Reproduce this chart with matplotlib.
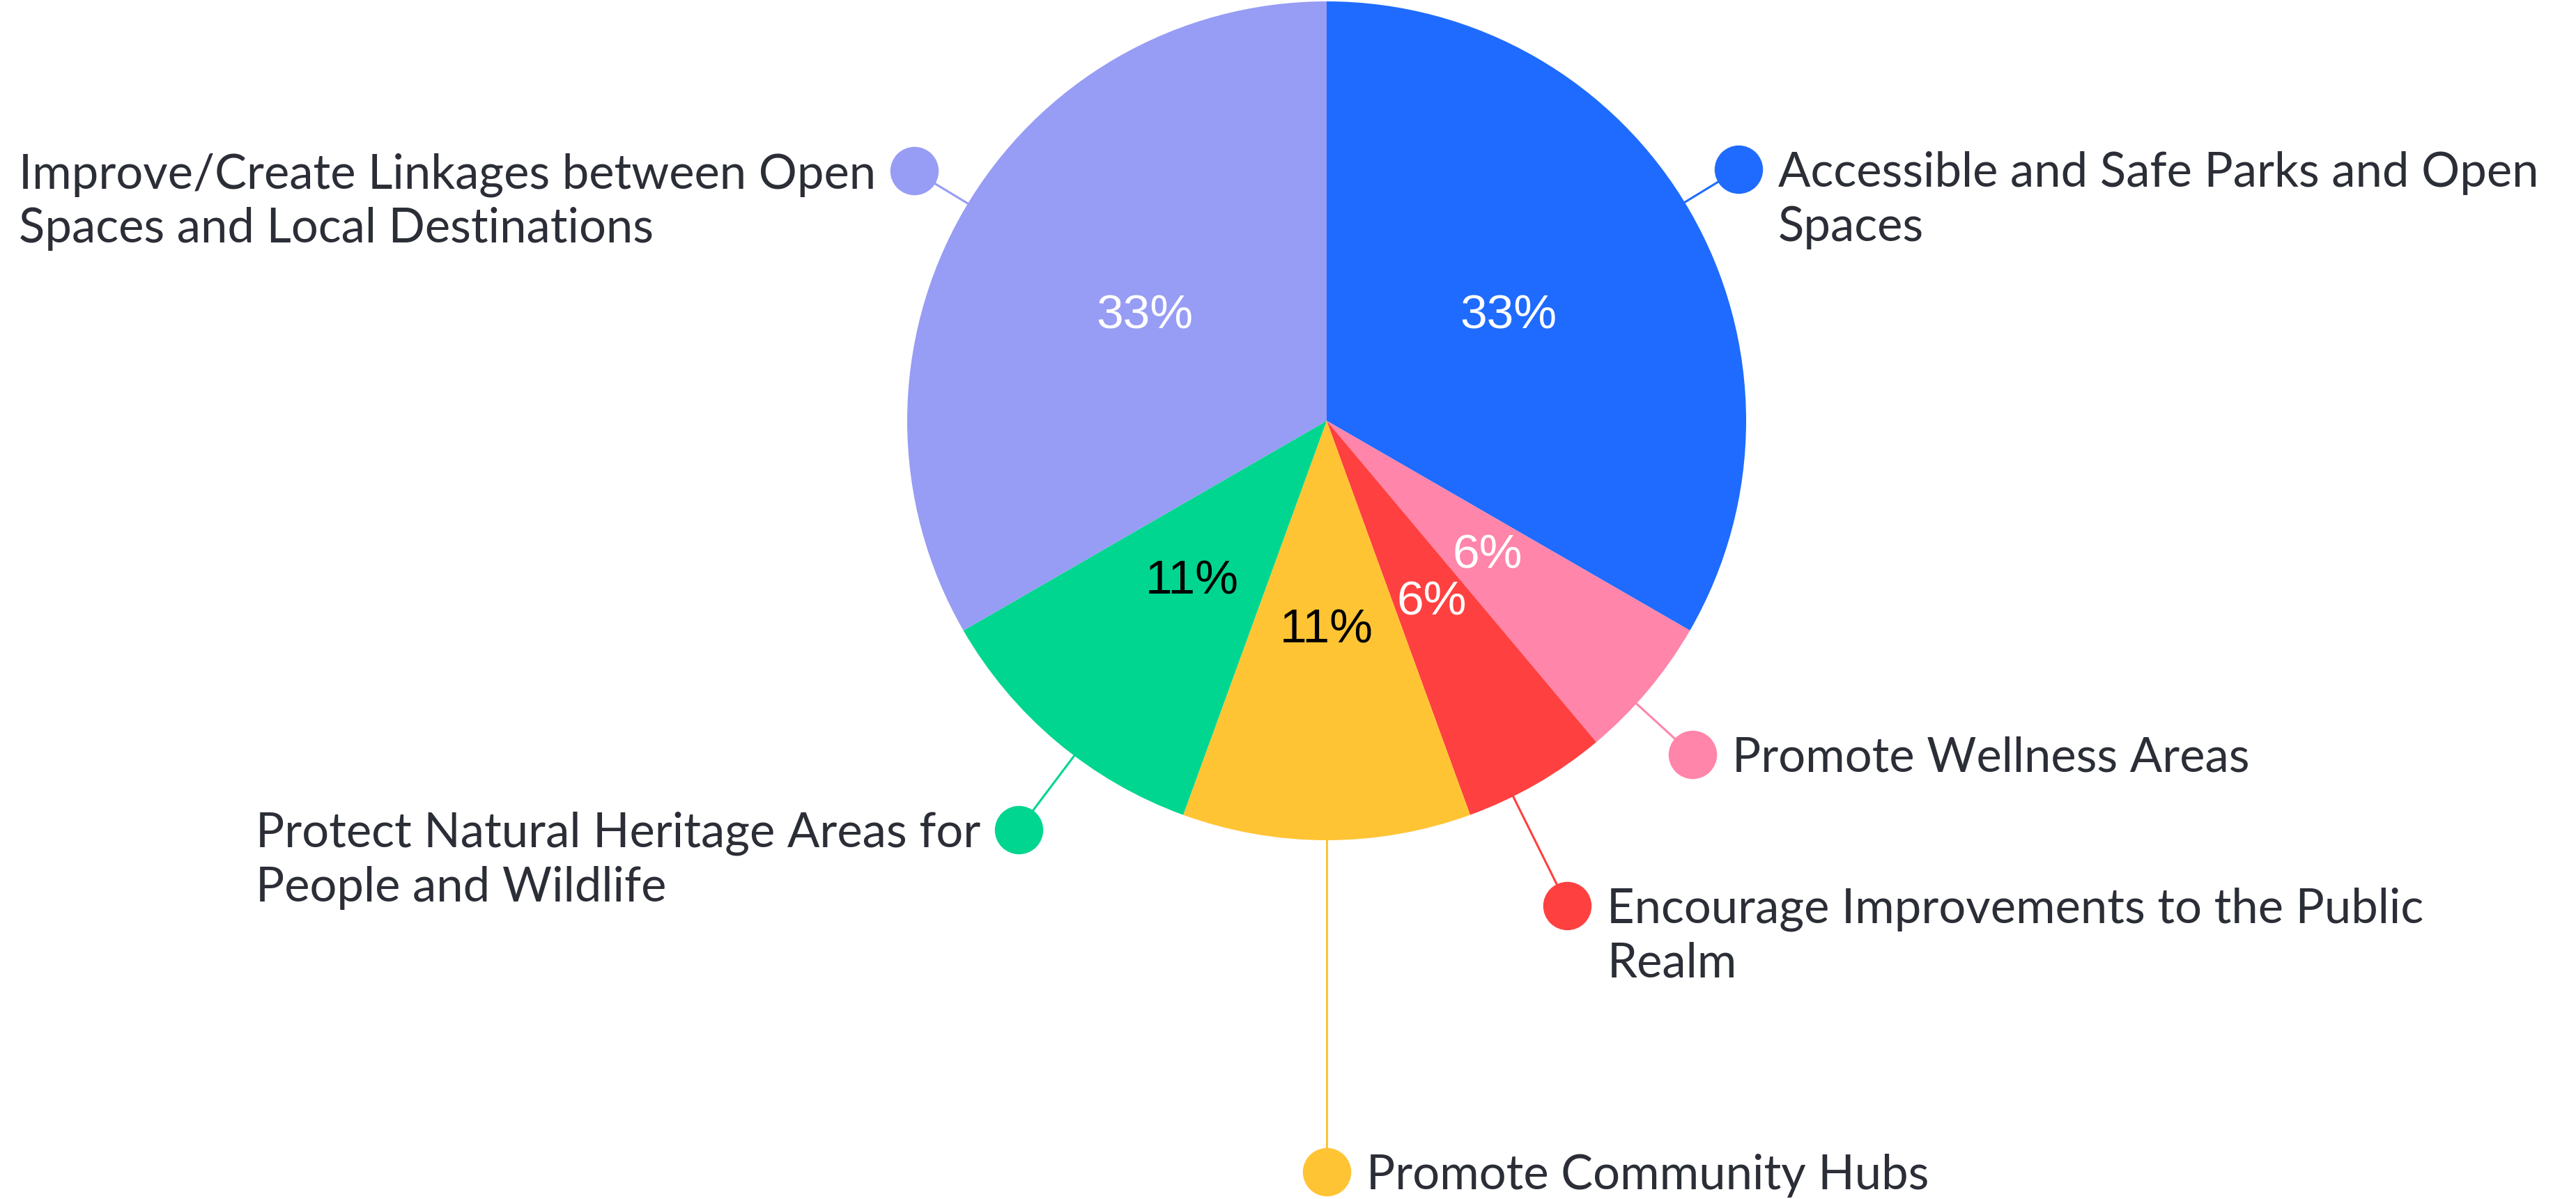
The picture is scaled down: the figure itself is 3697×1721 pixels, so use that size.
import numpy as np
import matplotlib.pyplot as plt

# responses per priority, clockwise from 12 o'clock
labels = ['Accessible and Safe Parks and Open\nSpaces',
          'Promote Wellness Areas',
          'Encourage Improvements to the Public\nRealm',
          'Promote Community Hubs',
          'Protect Natural Heritage Areas for\nPeople and Wildlife',
          'Improve/Create Linkages between Open\nSpaces and Local Destinations']
counts = [6, 1, 1, 2, 2, 6]
colors = ['#1F6BFF', '#FF85AA', '#FF4040', '#FFC434', '#00D68F', '#979CF4']
pct_colors = ['white', 'white', 'white', 'black', 'black', 'white']

# leader layout: angle shift from wedge middle (deg), dot distance in radii
lead_shift = [1.4, -2.4, -3.6, 0.0, 3.0, -1.2]
lead_dist = [1.15, 1.18, 1.29, 1.79, 1.22, 1.15]

W, H = 3698, 1721
cx, cy, R = 1904, H - 604, 602

fig = plt.figure(figsize=(W / 100, H / 100), dpi=100)
ax = fig.add_axes([0, 0, 1, 1])

wedges, texts, autotexts = ax.pie(counts, colors=colors, startangle=90, counterclock=False,
                                  radius=R, center=(cx, cy), autopct='%.0f%%', pctdistance=0.5,
                                  frame=True)
ax.set_xlim(0, W)
ax.set_ylim(0, H)
ax.set_aspect('equal')
ax.axis('off')

for t, c in zip(autotexts, pct_colors):
    t.set_color(c)
    t.set_fontsize(50)
    t.set_family('Liberation Sans')

renderer = fig.canvas.get_renderer()

for w, lab, sh, d, col in zip(wedges, labels, lead_shift, lead_dist, colors):
    ang = np.deg2rad((w.theta1 + w.theta2) / 2 + sh)
    x0, y0 = cx + R * np.cos(ang), cy + R * np.sin(ang)
    x1, y1 = cx + d * R * np.cos(ang), cy + d * R * np.sin(ang)
    ax.plot([x0, x1], [y0, y1], color=col, lw=2.2, zorder=1)
    ax.plot(x1, y1, 'o', ms=50, color=col, mew=0, zorder=3)
    right = np.cos(ang) >= -1e-6
    lines = []
    for i, line in enumerate(lab.split('\n')):
        lines.append(ax.text(x1 + 57, y1 - 25 - i * 78, line, ha='left', va='baseline',
                             fontsize=49.5, family='Lato', color='#2B2E36'))
    if not right:
        # left-side labels: block sits left of the dot, lines still left aligned
        wmax = max(t.get_window_extent(renderer).width for t in lines)
        for t in lines:
            t.set_x(x1 - 55 - wmax)

fig.savefig('out.png', dpi=100, facecolor='white')
